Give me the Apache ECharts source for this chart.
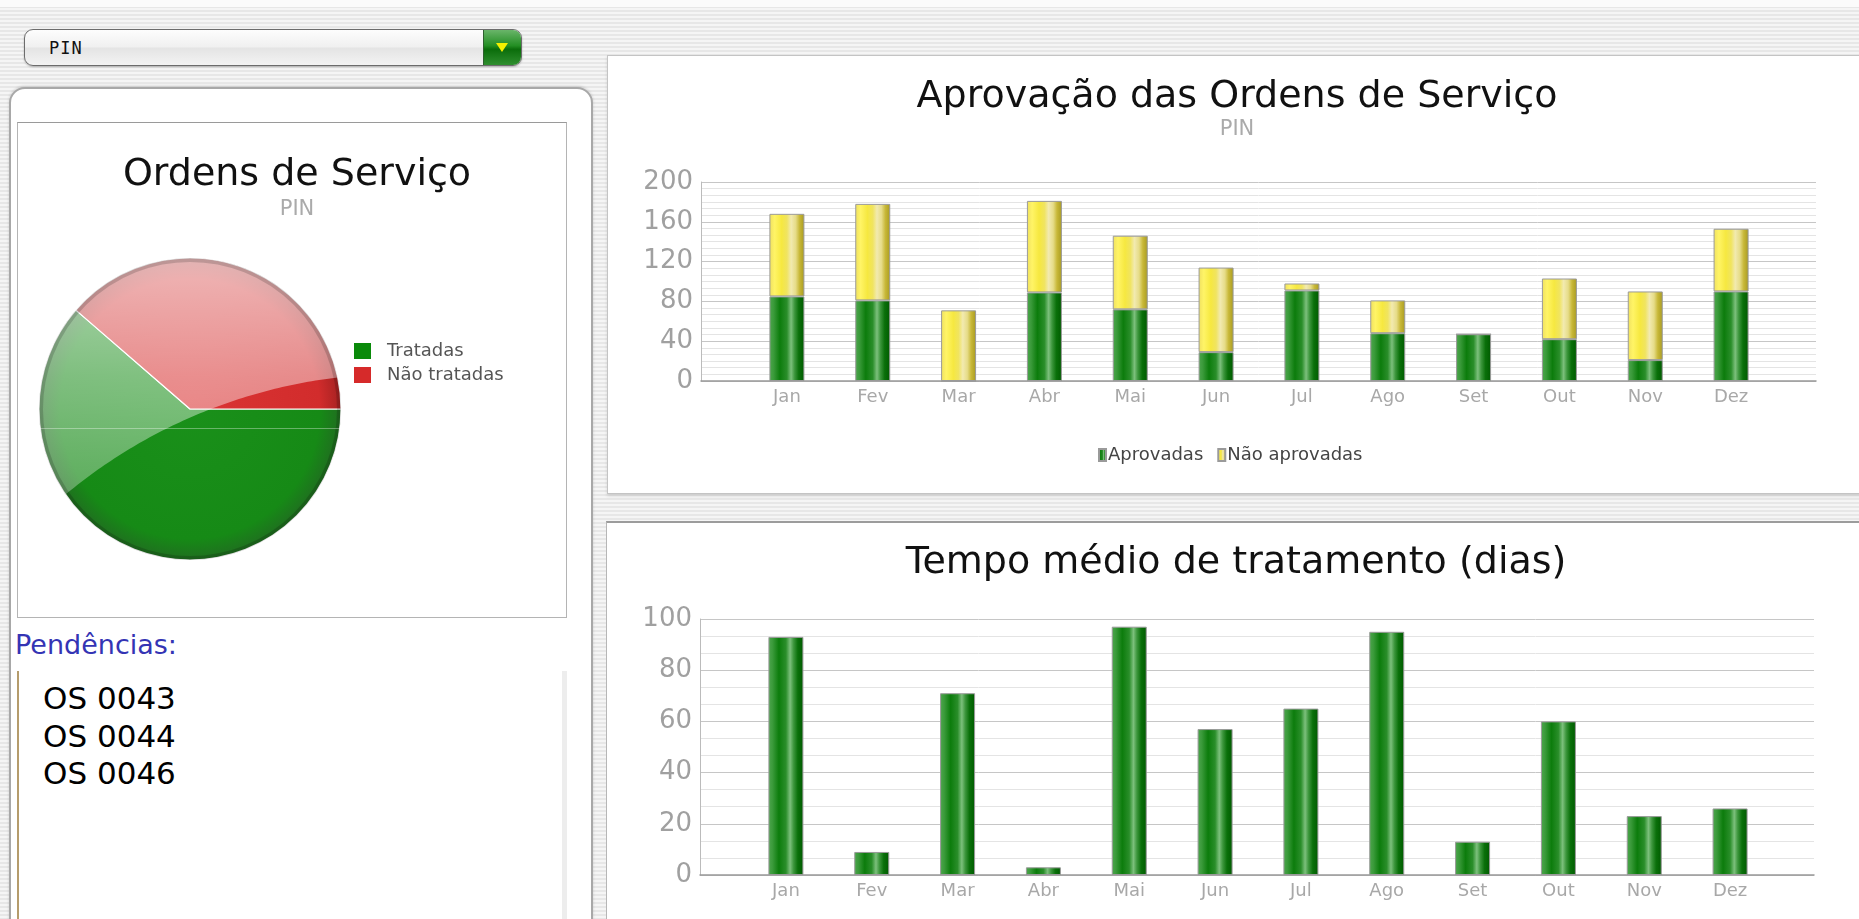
<!DOCTYPE html>
<html>
<head>
<meta charset="utf-8">
<script src="https://cdn.jsdelivr.net/npm/echarts@6/dist/echarts.min.js"></script>
<style>
  html, body { margin:0; padding:0; width:1859px; height:919px; overflow:hidden; }
  body {
    background: repeating-linear-gradient(to bottom, #f5f5f5 0px, #f5f5f5 2px, #e7e7e7 2px, #e7e7e7 4px);
    font-family: "DejaVu Sans", Verdana, sans-serif;
    position: relative;
  }
  .abs { position:absolute; box-sizing:border-box; }
  #topwhite { left:0; top:0; width:1859px; height:7px; background:#fbfbfb; }
  #dd { left:24px; top:29px; width:498px; height:37px; border:1.5px solid #6c6c6c; border-radius:9px;
        background: linear-gradient(#fdfdfd, #f0f0f0 48%, #e4e4e4 52%, #f3f3f3); overflow:hidden;
        box-shadow: 0 1px 2px rgba(0,0,0,0.25); }
  #dd span { position:absolute; left:24px; top:8px; font-family:"DejaVu Sans Mono", monospace; font-size:17px; color:#111; letter-spacing:1px; }
  #ddbtn { position:absolute; right:0; top:0; bottom:0; width:37px; border-left:1px solid #2f5f2f;
           background: linear-gradient(#6ab56a, #238e23 45%, #0b6d0b 55%, #2f8f2f); }
  #tri { position:absolute; left:12px; top:13px; width:0; height:0; border-left:6px solid transparent;
         border-right:6px solid transparent; border-top:9px solid #f2f000; }
  #leftPanel { left:9px; top:87px; width:584px; height:860px; background:#fff; border:2px solid #a8a8a8;
               border-radius:16px; box-shadow: 0 -1px 3px rgba(0,0,0,0.15); }
  #pieBox { left:17px; top:122px; width:550px; height:496px; background:#fff; border:1.5px solid #b4b4b4; border-top-color:#9a9a9a; }
  #pend { left:15px; top:631px; font-size:27px; line-height:27px; color:#3434b4; white-space:nowrap; }
  #osBox { left:17px; top:671px; width:550px; height:260px; background:#fff; border-left:2px solid #b59c6c; border-right:5px solid #ededed; }
  #osList { left:43px; top:680px; font-family:"DejaVu Sans", sans-serif; font-size:31px; line-height:37.6px; color:#000; white-space:nowrap; }
  #rpTop { left:607px; top:55px; width:1262px; height:439px; background:#fff; border:1.5px solid #c4c4c4; box-shadow: 0 2px 3px rgba(0,0,0,0.12); }
  #rpBot { left:606px; top:521px; width:1262px; height:420px; background:#fff; border-top:2px solid #9c9c9c; border-left:1.5px solid #b6b6b6; }
  #chart { position:absolute; left:0; top:0; width:1859px; height:919px; z-index:5; }
</style>
</head>
<body>
<div id="topwhite" class="abs"></div>
<div id="dd" class="abs"><span>PIN</span><div id="ddbtn"><div id="tri"></div></div></div>
<div id="leftPanel" class="abs"></div>
<div id="pieBox" class="abs"></div>
<div id="pend" class="abs">Pendências:</div>
<div id="osBox" class="abs"></div>
<div id="osList" class="abs">OS 0043<br>OS 0044<br>OS 0046</div>
<div id="rpTop" class="abs"></div>
<div id="rpBot" class="abs"></div>
<div id="chart"></div>
<script>
// ---------------- DATA ----------------
const months = ['Jan','Fev','Mar','Abr','Mai','Jun','Jul','Ago','Set','Out','Nov','Dez'];
const aprovadas    = [85, 81, 0, 89, 72, 29, 91, 48, 47, 42, 21, 90];
const naoAprovadas = [83, 97, 71, 92, 74, 85, 7, 33, 0, 61, 69, 63];
const tempoMedio   = [93, 9, 71, 3, 97, 57, 65, 95, 13, 60, 23, 26];
const pieNames  = ['Tratadas', 'Não tratadas'];
const pieValues = [27, 17];
const approvalAxis = { min: 0, max: 200, interval: 40 };
const tempoAxis    = { min: 0, max: 100, interval: 20 };

// ---------------- STYLE ----------------
const FONT = 'DejaVu Sans';
const greenGrad = { type:'linear', x:0, y:0, x2:1, y2:0, colorStops:[
  {offset:0, color:'#4ea64e'}, {offset:0.12, color:'#3a9a3a'}, {offset:0.3, color:'#0c7c0c'},
  {offset:0.5, color:'#2a8e2a'}, {offset:0.62, color:'#7cc07c'}, {offset:0.72, color:'#3c963c'},
  {offset:0.84, color:'#0a700a'}, {offset:1, color:'#005a00'} ]};
const yellowGrad = { type:'linear', x:0, y:0, x2:1, y2:0, colorStops:[
  {offset:0, color:'#efe060'}, {offset:0.15, color:'#fff466'}, {offset:0.35, color:'#f6e840'},
  {offset:0.5, color:'#f0e460'}, {offset:0.62, color:'#f2eab0'}, {offset:0.75, color:'#e6dc88'},
  {offset:0.86, color:'#c8b838'}, {offset:1, color:'#a89a20'} ]};
const pieC = [190, 409], pieR = 151;
const pieGreen = { type:'radial', x:pieC[0], y:pieC[1], r:pieR, global:true, colorStops:[
  {offset:0, color:'#1a901a'}, {offset:0.86, color:'#168a16'}, {offset:1, color:'#206e20'} ]};
const pieRed = { type:'radial', x:pieC[0], y:pieC[1], r:pieR, global:true, colorStops:[
  {offset:0, color:'#da3434'}, {offset:0.86, color:'#d22c2c'}, {offset:1, color:'#a62222'} ]};

// gloss highlight polygon: pie disc minus a large circle to the lower right
function glossPoints() {
  const B = [399.3, 895.6], R = 521.8;
  const dx = B[0]-pieC[0], dy = B[1]-pieC[1], d = Math.hypot(dx, dy);
  const a = (pieR*pieR - R*R + d*d) / (2*d), h = Math.sqrt(pieR*pieR - a*a);
  const ux = dx/d, uy = dy/d, px = pieC[0]+a*ux, py = pieC[1]+a*uy;
  let p1 = [px + h*uy, py - h*ux], p2 = [px - h*uy, py + h*ux];
  const L = p1[0] < p2[0] ? p1 : p2, Rt = p1[0] < p2[0] ? p2 : p1;
  let aL = Math.atan2(L[1]-pieC[1], L[0]-pieC[0]);
  let aR = Math.atan2(Rt[1]-pieC[1], Rt[0]-pieC[0]);
  if (aR < aL) aR += 2*Math.PI;
  const pts = [];
  const N = 80;
  for (let i = 0; i <= N; i++) {
    const t = aL + (aR-aL)*i/N;
    pts.push([pieC[0] + pieR*Math.cos(t), pieC[1] + pieR*Math.sin(t)]);
  }
  let bR = Math.atan2(Rt[1]-B[1], Rt[0]-B[0]);
  let bL = Math.atan2(L[1]-B[1], L[0]-B[0]);
  for (let i = 1; i < N; i++) {
    const t = bR + (bL-bR)*i/N;
    pts.push([B[0] + R*Math.cos(t), B[1] + R*Math.sin(t)]);
  }
  return pts;
}

const chart = echarts.init(document.getElementById('chart'), null, { renderer:'canvas' });
const axisLbl = { color:'#a0a0a0', fontSize:26, fontFamily:FONT, margin:8 };
const catLbl  = { color:'#a8a8a8', fontSize:18, fontFamily:FONT, margin:7 };
const titleStyle = { fontSize:38, fontWeight:'normal', color:'#111', fontFamily:FONT };
const subStyle = { fontSize:21, color:'#aaa', fontFamily:FONT };

chart.setOption({
  animation: false,
  backgroundColor: 'transparent',
  textStyle: { fontFamily: FONT },
  title: [
    { text:'Ordens de Serviço', subtext:'PIN', left:292, top:151, textAlign:'center', itemGap:5,
      textStyle:titleStyle, subtextStyle:subStyle },
    { text:'Aprovação das Ordens de Serviço', subtext:'PIN', left:1232, top:73, textAlign:'center', itemGap:3,
      textStyle:titleStyle, subtextStyle:subStyle },
    { text:'Tempo médio de tratamento (dias)', left:1231, top:539, textAlign:'center', textStyle:titleStyle }
  ],
  legend: [
    { data:[{name:'Aprovadas'}, {name:'Não aprovadas'}], left:1098, top:446, icon:'rect',
      itemWidth:7, itemHeight:12, itemGap:14, padding:0,
      textStyle:{ fontSize:18, color:'#444', fontFamily:FONT, padding:[0,0,0,-3] } },
    { data:[{name:pieNames[0], itemStyle:{color:'#0a8a0a'}}, {name:pieNames[1], itemStyle:{color:'#d62a2a'}}],
      orient:'vertical', left:352, top:341, icon:'rect', itemWidth:19, itemHeight:18, itemGap:4, padding:0,
      textStyle:{ fontSize:18, color:'#555', fontFamily:FONT, padding:[0,0,0,10] } }
  ],
  grid: [
    { left:701, top:182, width:1115, height:199 },
    { left:744, top:182, width:1030, height:199 },
    { left:700, top:619, width:1114, height:256 },
    { left:743, top:619, width:1030, height:256 }
  ],
  xAxis: [
    { gridIndex:0, type:'value', min:0, max:1, axisLine:{show:true, lineStyle:{color:'#999', width:1.5}},
      axisTick:{show:false}, axisLabel:{show:false}, splitLine:{show:false} },
    { gridIndex:1, type:'category', data:months, axisLine:{show:false}, axisTick:{show:false}, axisLabel:catLbl },
    { gridIndex:2, type:'value', min:0, max:1, axisLine:{show:true, lineStyle:{color:'#999', width:1.5}},
      axisTick:{show:false}, axisLabel:{show:false}, splitLine:{show:false} },
    { gridIndex:3, type:'category', data:months, axisLine:{show:false}, axisTick:{show:false}, axisLabel:catLbl }
  ],
  yAxis: [
    { gridIndex:0, type:'value', min:approvalAxis.min, max:approvalAxis.max, interval:approvalAxis.interval,
      axisLine:{show:true, lineStyle:{color:'#bbb'}}, axisTick:{show:false}, axisLabel:axisLbl,
      splitLine:{lineStyle:{color:'#c6c6c6'}}, minorTick:{show:false, splitNumber:6},
      minorSplitLine:{show:true, lineStyle:{color:'#e4e4e4'}} },
    { gridIndex:1, type:'value', min:approvalAxis.min, max:approvalAxis.max, show:false },
    { gridIndex:2, type:'value', min:tempoAxis.min, max:tempoAxis.max, interval:tempoAxis.interval,
      axisLine:{show:true, lineStyle:{color:'#bbb'}}, axisTick:{show:false}, axisLabel:axisLbl,
      splitLine:{lineStyle:{color:'#c6c6c6'}}, minorTick:{show:false, splitNumber:3},
      minorSplitLine:{show:true, lineStyle:{color:'#e4e4e4'}} },
    { gridIndex:3, type:'value', min:tempoAxis.min, max:tempoAxis.max, show:false }
  ],
  series: [
    { name:'Aprovadas', type:'bar', xAxisIndex:1, yAxisIndex:1, stack:'aprov', barWidth:35, data:aprovadas,
      itemStyle:{ color:greenGrad, borderColor:'#9a9a9a', borderWidth:1 } },
    { name:'Não aprovadas', type:'bar', xAxisIndex:1, yAxisIndex:1, stack:'aprov', barWidth:35, data:naoAprovadas,
      itemStyle:{ color:yellowGrad, borderColor:'#9a9a9a', borderWidth:1 } },
    { name:'Tempo médio', type:'bar', xAxisIndex:3, yAxisIndex:3, barWidth:35, data:tempoMedio,
      itemStyle:{ color:greenGrad, borderColor:'#9a9a9a', borderWidth:1 } },
    { name:'Ordens de Serviço', type:'pie', center:pieC, radius:pieR, startAngle:0, clockwise:true,
      label:{show:false}, labelLine:{show:false}, emphasis:{disabled:true},
      itemStyle:{ borderColor:'#ffffff', borderWidth:1.2 },
      data:[ {name:pieNames[0], value:pieValues[0], itemStyle:{color:pieGreen}},
             {name:pieNames[1], value:pieValues[1], itemStyle:{color:pieRed}} ] }
  ],
  graphic: [
    { type:'polygon', z:50, silent:true, shape:{ points: glossPoints() },
      style:{ fill: { type:'linear', x:0, y:0, x2:0, y2:1, colorStops:[
        {offset:0, color:'rgba(255,255,255,0.66)'}, {offset:0.5, color:'rgba(255,255,255,0.45)'},
        {offset:1, color:'rgba(255,255,255,0.3)'}] } } },
    { type:'circle', z:51, silent:true, shape:{ cx:pieC[0], cy:pieC[1], r:pieR-2 },
      style:{ fill:'none', stroke:'rgba(0,0,0,0.16)', lineWidth:4 } },
    { type:'line', z:52, silent:true, shape:{ x1:pieC[0]-pieR+1, y1:428.5, x2:pieC[0]+pieR-1, y2:428.5 },
      style:{ stroke:'rgba(255,255,255,0.35)', lineWidth:1 } }
  ]
});
</script>
</body>
</html>
